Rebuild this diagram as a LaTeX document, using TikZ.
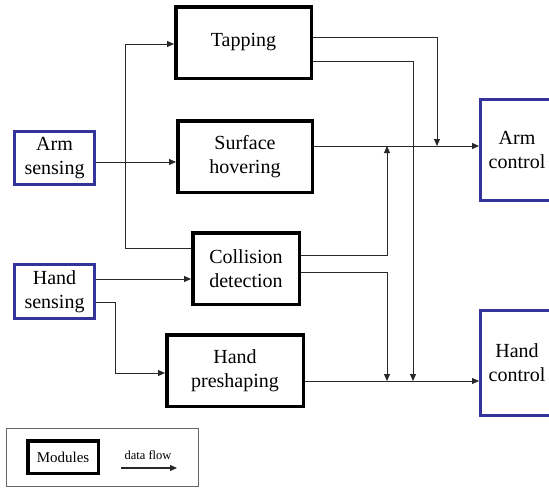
\documentclass[tikz,border=0pt]{standalone}
\usepackage{fontspec}
\setmainfont{Liberation Serif}
\usetikzlibrary{arrows.meta}
\definecolor{sensblue}{RGB}{51,51,153}
\definecolor{linegray}{RGB}{40,40,40}
\tikzset{
  module/.style={draw=black, line width=3.5pt, rectangle, inner sep=0pt, align=center,
    font=\fontsize{20}{24}\selectfont},
  sensor/.style={draw=sensblue, line width=3pt, rectangle, inner sep=0pt, align=center,
    font=\fontsize{20}{24}\selectfont},
  conn/.style={draw=linegray, line width=0.9pt},
  flow/.style={conn, -{Triangle[length=7pt,width=6pt]}},
}
\begin{document}
\begin{tikzpicture}[x=1pt,y=-1pt]
\useasboundingbox (0,0) rectangle (549,488);
% modules
\node[module, minimum width=135.5pt, minimum height=71.5pt] (tap) at (243.5,42.5) {Tapping};
\node[module, minimum width=134.5pt, minimum height=71.5pt] (sh) at (245,156.5) {Surface\\hovering};
\node[module, minimum width=106.5pt, minimum height=71.5pt] (cd) at (246,268.5) {Collision\\detection};
\node[module, minimum width=136.5pt, minimum height=71.5pt] (hp) at (235,370.5) {Hand\\preshaping};
% sensing / control
\node[sensor, minimum width=80pt, minimum height=53pt] (as) at (54.5,158) {Arm\\sensing};
\node[sensor, minimum width=80pt, minimum height=54pt] (hs) at (54.5,291.5) {Hand\\sensing};
\node[sensor, minimum width=73pt, minimum height=101pt] (ac) at (517,150) {Arm\\control};
\node[sensor, minimum width=73pt, minimum height=105pt] (hc) at (517,363) {Hand\\control};
% connectors
\coordinate (br) at (125,162);
\draw[flow] (as.east |- 0,162) -- (sh.west |- 0,162);
\draw[flow] (br |- 0,44) -- (tap.west |- 0,44);
\draw[conn] (br |- 0,44) -- (br |- 0,248) -- (cd.west |- 0,248);
\coordinate (ta) at (437,146);
\coordinate (tb) at (413,381);
\draw[flow] (tap.east |- 0,37) -- (ta |- 0,37) -- (ta);
\draw[flow] (tap.east |- 0,61) -- (tb |- 0,61) -- (tb);
\draw[flow] (sh.east |- 0,146) -- (ac.west |- 0,146);
\coordinate (ca) at (387,146);
\coordinate (cb) at (387,381);
\draw[flow] (cd.east |- 0,255) -- (ca |- 0,255) -- (ca);
\draw[flow] (cd.east |- 0,272) -- (cb |- 0,272) -- (cb);
\draw[flow] (hs.east |- 0,279) -- (cd.west |- 0,279);
\coordinate (hb) at (115,302);
\draw[flow] (hs.east |- 0,302) -- (hb) -- (hb |- 0,373) -- (hp.west |- 0,373);
\draw[flow] (hp.east |- 0,381) -- (hc.west |- 0,381);
% legend
\node[draw=black!60, line width=1pt, rectangle, inner sep=0pt, minimum width=192pt, minimum height=58pt] (leg) at (102.5,457.5) {};
\node[module, minimum width=70.5pt, minimum height=32.5pt, font=\fontsize{15}{18}\selectfont] (mod) at (63,457) {Modules};
\node[font=\fontsize{12.5}{15}\selectfont, inner sep=0pt] (df) at (148,455) {data flow};
\coordinate (dfa) at (121,468);
\coordinate (dfb) at (177,468);
\draw[flow, line width=1.3pt] (dfa) -- (dfb);
\end{tikzpicture}
\end{document}
